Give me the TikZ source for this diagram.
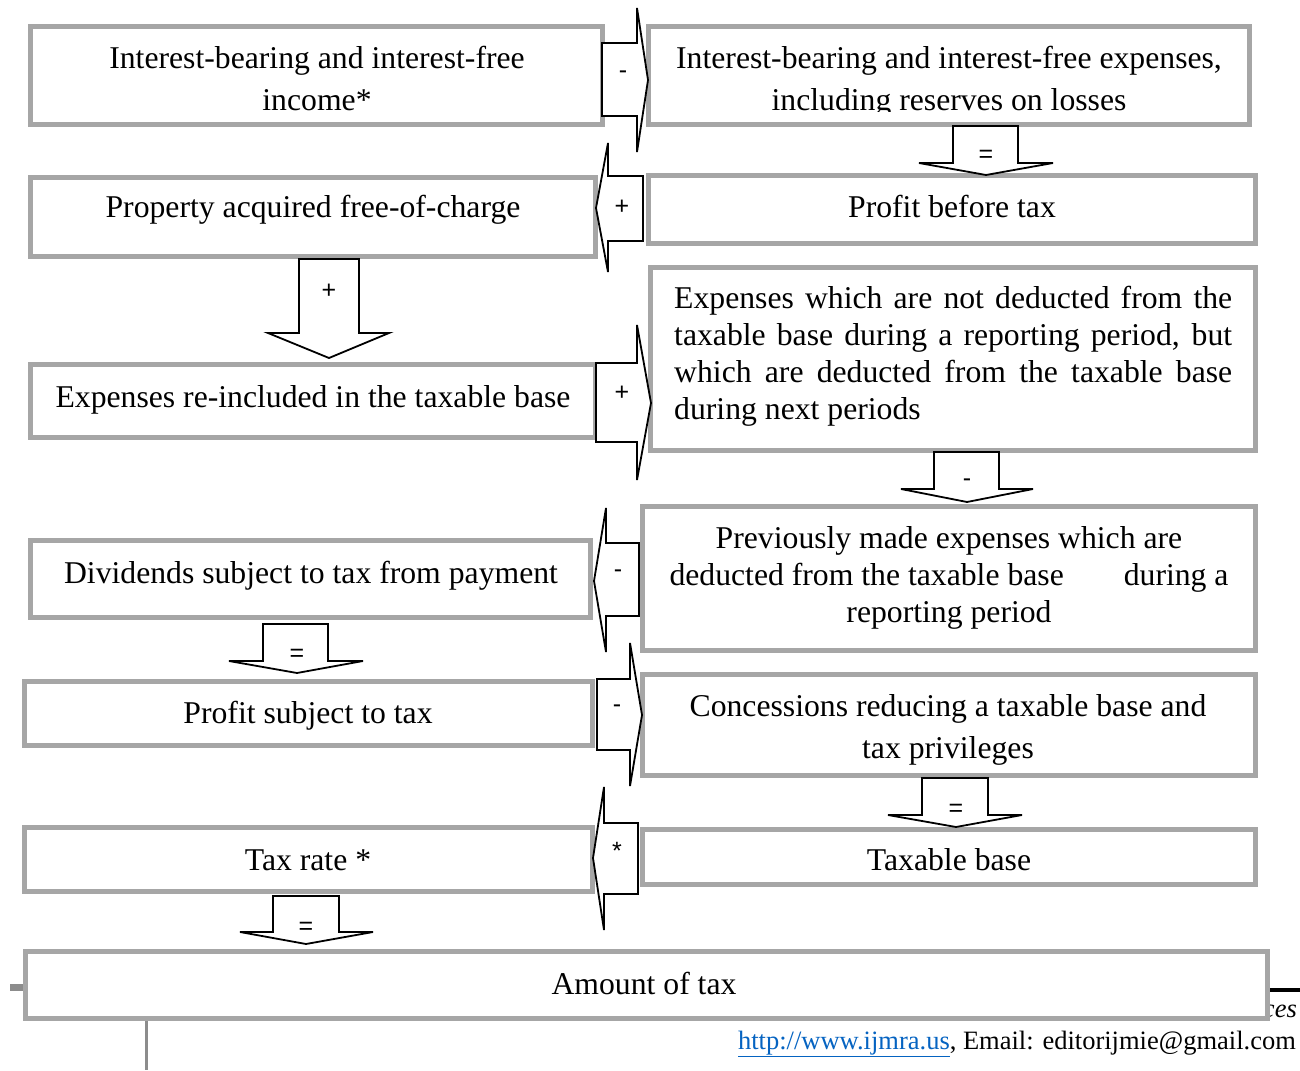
\documentclass[tikz,border=0pt]{standalone}
\usepackage{fontspec}
\setmainfont{Liberation Serif}
\newfontfamily\arialf{Liberation Sans}
\usetikzlibrary{fit}
\definecolor{boxgray}{HTML}{A6A6A6}
\definecolor{linkblue}{HTML}{0563C1}
\definecolor{rulegray}{HTML}{8C8C8C}
\newcommand\ts{\rule[-7pt]{0pt}{29pt}}
\begin{document}
\begin{tikzpicture}[x=1pt,y=-1pt,
  box/.style={draw=boxgray,line width=5pt,fill=white,inner sep=0pt},
  txt/.style={font=\fontsize{31.7}{42}\selectfont,inner sep=0pt,align=center},
  blk/.style={draw=black,line width=1.8pt,fill=white,line join=miter},
  sym/.style={font=\arialf\fontsize{25}{28}\selectfont,inner sep=0pt},
  foot/.style={font=\fontsize{26.5}{30}\selectfont,inner sep=0pt}]
\useasboundingbox (0,0) rectangle (1300,1070);

% footer elements behind
\draw[rulegray,line width=7pt] (10,987) -- (30,987);
\draw[black,line width=4pt] (1262,990) -- (1300,990);
\draw[rulegray,line width=3pt] (146,1018) -- (146,1070);
\node[foot,anchor=base east,font=\itshape\fontsize{26.5}{30}\selectfont] (jt) at (1297,1017) {Sciences};
\node[foot,anchor=base east] (web) at (1296,1049) {\textcolor{linkblue}{\underline{http://www.ijmra.us}}, Email: editorijmie@gmail.com};

% boxes
\node[box,fit={(30,27) (602,125)}] (L1) {};
\node[box,fit={(648,27) (1249,125)}] (R1) {};
\node[box,fit={(30,177) (595,256)}] (L2) {};
\node[box,fit={(648,175) (1255,243)}] (R2) {};
\node[box,fit={(30,364) (595,437)}] (L3) {};
\node[box,fit={(650,267) (1255,450)}] (R3) {};
\node[box,fit={(30,540) (590,617)}] (L4) {};
\node[box,fit={(642,506) (1255,650)}] (R4) {};
\node[box,fit={(24,681) (592,745)}] (L5) {};
\node[box,fit={(642,674) (1255,775)}] (R5) {};
\node[box,fit={(24,827) (592,891)}] (L6) {};
\node[box,fit={(642,829) (1255,884)}] (R6) {};
\node[box,fit={(25,951) (1267,1018)}] (B) {};

% horizontal block arrows
\draw[blk] (602,43) -- (637,43) -- (637,8) -- (648,80) -- (637,152) -- (637,116) -- (602,116) -- cycle;
\node[sym] (sA1) at (623,75) {-};
\draw[blk] (643,176) -- (608,176) -- (608,143) -- (596,208) -- (608,272) -- (608,241) -- (643,241) -- cycle;
\node[sym] (sA2) at (622,207) {+};
\draw[blk] (596,363) -- (637,363) -- (637,325) -- (651,403) -- (637,480) -- (637,442) -- (596,442) -- cycle;
\node[sym] (sA3) at (622,393) {+};
\draw[blk] (639,543) -- (606,543) -- (606,508) -- (594,581) -- (606,652) -- (606,616) -- (639,616) -- cycle;
\node[sym] (sA4) at (618,574) {-};
\draw[blk] (597,679) -- (630,679) -- (630,643) -- (642,715) -- (630,786) -- (630,750) -- (597,750) -- cycle;
\node[sym] (sA5) at (617,709) {-};
\draw[blk] (638,823) -- (604,823) -- (604,787) -- (593,858) -- (604,930) -- (604,894) -- (638,894) -- cycle;
\node[sym] (sA6) at (617,851) {*};

% vertical block arrows
\draw[blk] (953,126) -- (1018,126) -- (1018,163) -- (1053,163) -- (986,175) -- (919,163) -- (953,163) -- cycle;
\node[sym] (sD1) at (986,156) {=};
\draw[blk] (299,259) -- (359,259) -- (359,333) -- (389,333) -- (329,358) -- (268,333) -- (299,333) -- cycle;
\node[sym] (sD2) at (329,291) {+};
\draw[blk] (934,452) -- (999,452) -- (999,489) -- (1033,489) -- (967,502) -- (901,489) -- (934,489) -- cycle;
\node[sym] (sD3) at (967,483) {-};
\draw[blk] (263,624) -- (328,624) -- (328,661) -- (363,661) -- (297,673) -- (229,661) -- (263,661) -- cycle;
\node[sym] (sD4) at (297,655) {=};
\draw[blk] (273,896) -- (339,896) -- (339,932) -- (373,932) -- (306,944) -- (240,932) -- (273,932) -- cycle;
\node[sym] (sD5) at (306,928) {=};
\draw[blk] (922,778) -- (988,778) -- (988,815) -- (1022,815) -- (956,827) -- (888,815) -- (922,815) -- cycle;
\node[sym] (sD6) at (956,810) {=};

% texts
\node[txt] (tL1) at (317,82) {\ts Interest-bearing and interest-free\\\ts income*};
\begin{scope}
\clip (640,20) rectangle (1260,112);
\node[txt] (tR1) at (949,82) {\ts Interest-bearing and interest-free expenses,\\\ts including reserves on losses};
\end{scope}
\node[txt] (tL2) at (313,209.5) {\ts Property acquired free-of-charge};
\node[txt] (tR2) at (952,209.5) {\ts Profit before tax};
\node[txt] (tL3) at (313,399.5) {\ts Expenses re-included in the taxable base};
\node[txt,align=left,font=\fontsize{31.7}{37}\selectfont,anchor=west] (tR3) at (674,356) {\ts\makebox[558pt][s]{Expenses which are not deducted from the}\\\makebox[558pt][s]{taxable base during a reporting period, but}\\\makebox[558pt][s]{which are deducted from the taxable base}\\\ts during next periods};
\node[txt,font=\fontsize{31.7}{37}\selectfont] (tR4) at (949,577.5) {\ts Previously made expenses which are\\\hbox to 559pt{deducted from the taxable base\hfill during a}\\\ts reporting period};
\node[txt] (tL4) at (311,575.5) {\ts Dividends subject to tax from payment};
\node[txt] (tL5) at (308,715.5) {\ts Profit subject to tax};
\node[txt] (tR5) at (948,729.5) {\ts Concessions reducing a taxable base and\\\ts tax privileges};
\node[txt] (tL6) at (308,862.5) {\ts Tax rate *};
\node[txt] (tR6) at (949,862.5) {\ts Taxable base};
\node[txt] (tB) at (644,986.5) {\ts Amount of tax};
\end{tikzpicture}
\end{document}
